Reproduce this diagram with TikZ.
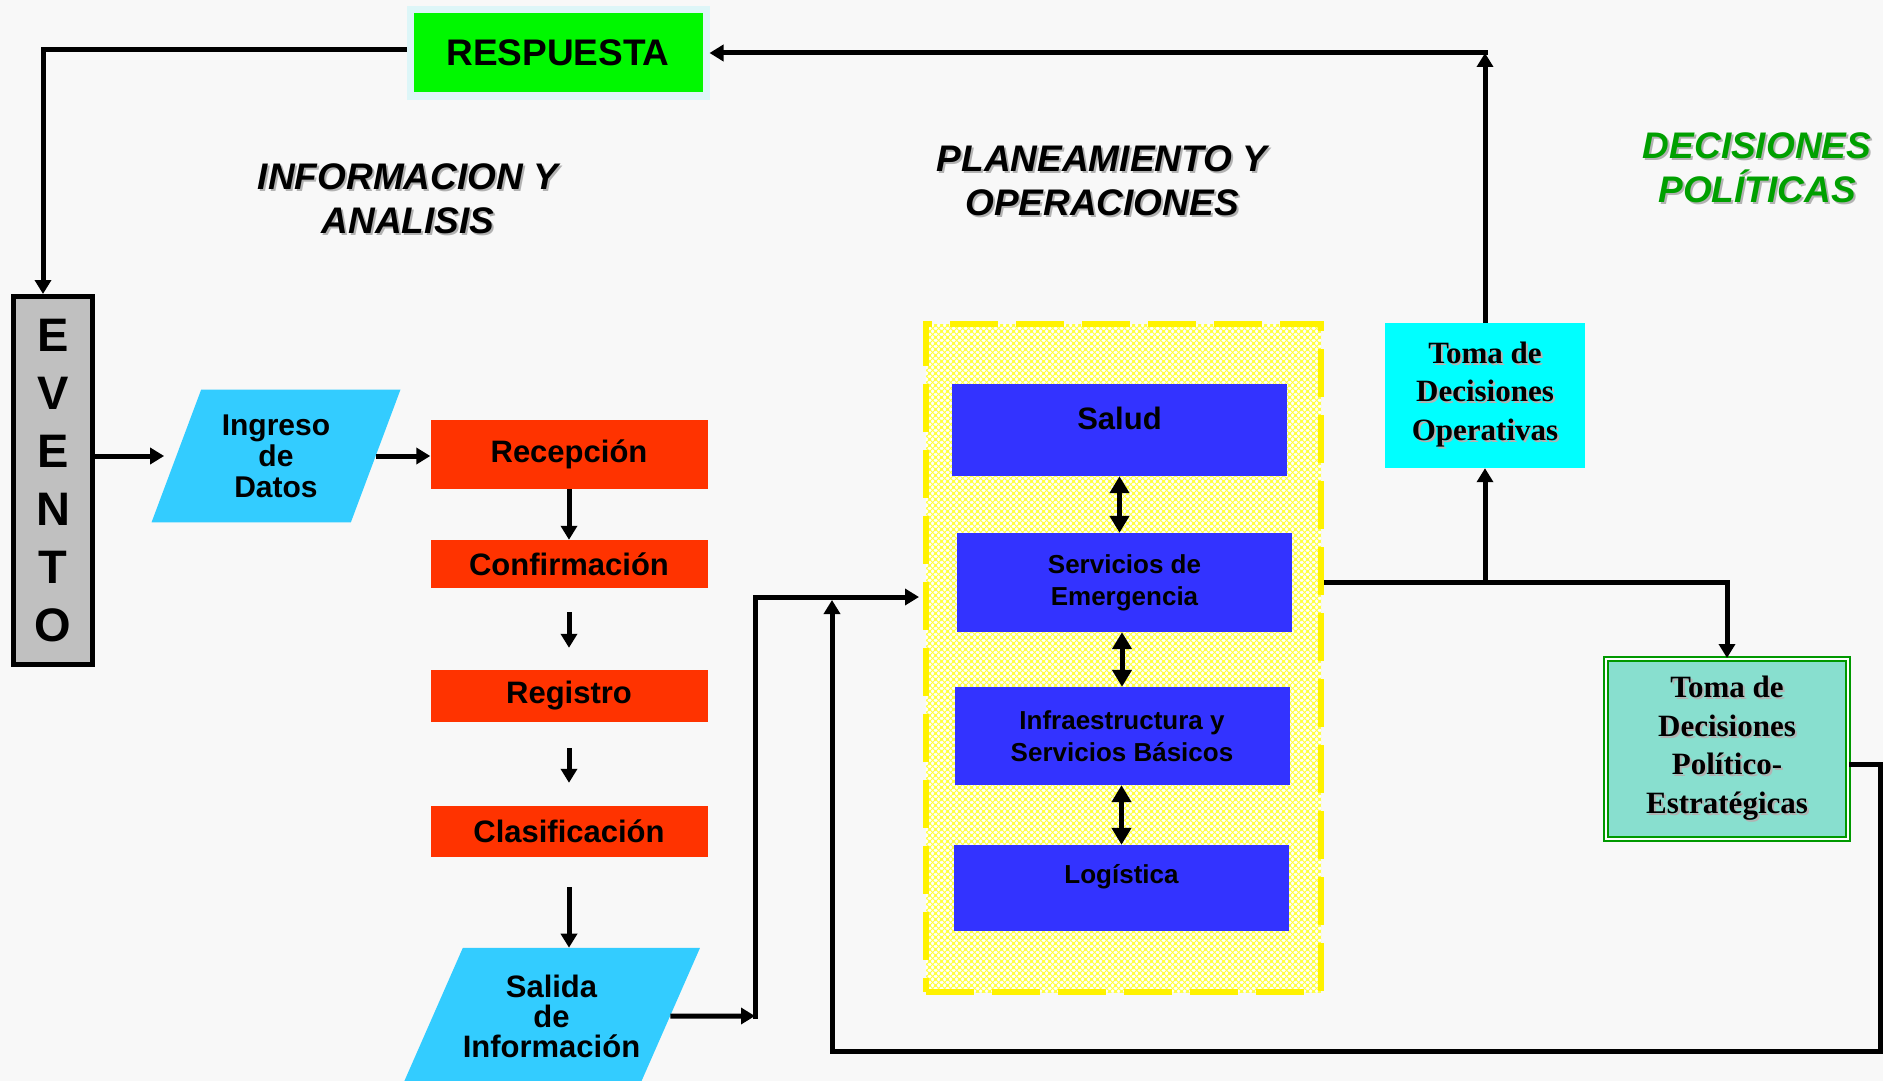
\documentclass[tikz,border=0pt]{standalone}
\usepackage{fontspec}
\setmainfont{Liberation Serif}
\setsansfont{Liberation Sans}
\usetikzlibrary{arrows.meta,shapes.geometric,patterns.meta,calc}
\definecolor{bggray}{HTML}{F8F8F8}
\definecolor{respgreen}{HTML}{00F800}
\definecolor{respedge}{HTML}{DDF6F8}
\definecolor{evgray}{HTML}{C0C0C0}
\definecolor{skyb}{HTML}{33CCFF}
\definecolor{redor}{HTML}{FF3300}
\definecolor{bluebx}{HTML}{3333FF}
\definecolor{cyanbx}{HTML}{00FFFF}
\definecolor{tealfill}{HTML}{88DFCF}
\definecolor{dgreen}{HTML}{009900}
\definecolor{titlegreen}{HTML}{00A000}
\definecolor{hatchyellow}{HTML}{FFFF40}
\tikzdeclarepattern{
  name=ychx,
  type=uncolored,
  bounding box={(0pt,0pt) and (6pt,6pt)},
  tile size={(6pt,6pt)},
  code={
    \draw[line width=1.05pt] (-6pt,-6pt) -- (12pt,12pt) (-6pt,12pt) -- (12pt,-6pt)
      (-6pt,0pt) -- (6pt,12pt) (0pt,-6pt) -- (12pt,6pt)
      (-6pt,6pt) -- (6pt,-6pt) (0pt,12pt) -- (12pt,0pt);
  }
}
\newcommand\shtext[1]{\makebox[0pt][l]{\hspace{2pt}\raisebox{-2pt}{\color{black!30}#1}}#1}
\begin{document}
\begin{tikzpicture}[x=1pt,y=-1pt,
  arr/.style={line width=5pt,-{Triangle[length=14pt,width=16pt]}},
  darr/.style={line width=5pt,{Triangle[length=17pt,width=19pt]}-{Triangle[length=17pt,width=19pt]}},
  redbox/.style={fill=redor,minimum width=277pt,inner sep=0pt,font=\sffamily\bfseries\fontsize{31}{36}\selectfont},
  bluebox/.style={fill=bluebx,minimum width=335pt,inner sep=0pt,font=\sffamily\bfseries\fontsize{26}{32}\selectfont},
  para/.style={trapezium,trapezium stretches body,fill=skyb,align=center,inner sep=0pt,font=\sffamily\bfseries\fontsize{30}{31}\selectfont},
  titletext/.style={align=center,font=\sffamily\bfseries\itshape\fontsize{37}{44}\selectfont},
  toma/.style={align=center,inner sep=0pt,font=\rmfamily\bfseries\fontsize{31}{38.5}\selectfont}
]
\path[fill=bggray,use as bounding box] (0,0) rectangle (1883,1081);
\clip (0,0) rectangle (1883,1081);

% titles
\node[titletext] (tinfo) at (408,200) {\shtext{INFORMACION Y}\\\shtext{ANALISIS}};
\node[titletext] (tplan) at (1102,182) {\shtext{PLANEAMIENTO Y}\\\shtext{OPERACIONES}};
\node[titletext,text=titlegreen] (tdec) at (1757,168.5) {\shtext{DECISIONES}\\\shtext{POLÍTICAS}};

% main nodes
\node[fill=respgreen,draw=respedge,line width=7pt,minimum width=296pt,minimum height=86pt,inner sep=0pt,
      font=\sffamily\bfseries\fontsize{37}{40}\selectfont] (resp) at (558,53) {RESPUESTA};
\node[fill=evgray,draw=black,line width=5pt,minimum width=79pt,minimum height=368pt,inner sep=0pt,align=center,
      font=\sffamily\bfseries\fontsize{47}{58}\selectfont] (evento) at (53,480.5) {E\\V\\E\\N\\T\\O};
\node[para,trapezium left angle=69.5,trapezium right angle=110.5,inner ysep=25pt,minimum width=249pt] (ingreso) at (276,456) {Ingreso\\de\\Datos};
\node[redbox,minimum height=69pt] (recep) at (569,454.5) {Recepción};
\node[redbox,minimum height=48pt] (confirm) at (569,564) {Confirmación};
\node[redbox,minimum height=52pt] (reg) at (569,696) {Registro};
\node[redbox,minimum height=51pt] (clas) at (569,831.5) {Clasificación};
\node[para,trapezium left angle=66.3,trapezium right angle=113.7,inner ysep=26.7pt,minimum width=293pt,
      font=\sffamily\bfseries\fontsize{31}{30}\selectfont] (salida) at (551.5,1016) {Salida\\de\\Información};

\node[draw=yellow,line width=5.5pt,dash pattern=on 48pt off 18pt,preaction={fill=white},
      pattern={ychx},pattern color=hatchyellow,minimum width=395pt,minimum height=668pt] (plan) at (1123.5,658) {};
\node[bluebox,minimum height=92pt,font=\sffamily\bfseries\fontsize{31}{36}\selectfont,text height=22pt,text depth=24pt] (salud) at (1119.5,430) {Salud};
\node[bluebox,minimum height=99pt,align=center] (serv) at (1124.5,582.5) {Servicios de\\Emergencia};
\node[bluebox,minimum height=98pt,align=center] (infra) at (1122,736) {Infraestructura y\\Servicios Básicos};
\node[bluebox,minimum height=86pt,text height=19pt,text depth=28pt] (logis) at (1121.5,888) {Logística};

\node[fill=cyanbx,minimum width=200pt,minimum height=145pt,toma] (operat) at (1485,395.5) {\shtext{Toma de}\\\shtext{Decisiones}\\\shtext{Operativas}};
\node[fill=tealfill,draw=dgreen,double=white,double distance=2.5pt,line width=2pt,minimum width=242pt,minimum height=180pt,toma] (politico) at (1727,749) {\shtext{Toma de}\\\shtext{Decisiones}\\\shtext{Político-}\\\shtext{Estratégicas}};

% coordinates
\coordinate (s1) at (755,1016);
\coordinate (pin) at (919,597);
\coordinate (fbR) at (1880,1051);
\coordinate (fbL) at (832,1051);
\coordinate (fbU) at (832,600);

% connectors
\draw[arr] ([yshift=3pt]resp.west) -| ([xshift=-10pt]evento.north);
\draw[arr,shorten >=12pt] (evento.east |- ingreso.west) -- (ingreso.west);
\draw[arr] (ingreso.east) -- (ingreso.east -| recep.west);
\draw[arr] (recep.south) -- (confirm.north);
\draw[arr,shorten <=24pt,shorten >=22pt] (confirm.south) -- (reg.north);
\draw[arr,shorten <=26pt,shorten >=23pt] (reg.south) -- (clas.north);
\draw[arr,shorten <=30pt] (clas.south) -- (clas.south |- salida.north);
\draw[arr] (salida.east) -- (s1);
\draw[arr] ([yshift=-2.5pt]s1) |- (pin);
\draw[arr] ([yshift=-15pt]politico.east) -| (fbR) -- (fbL) -- (fbU);
\draw[darr] (salud.south) -- (salud.south |- serv.north);
\draw[darr] (infra.north |- serv.south) -- (infra.north);
\draw[darr] (logis.north |- infra.south) -- (logis.north);
\draw[arr] (serv.east -| plan.east) -| (politico.north);
\draw[arr] (operat.south |- serv.east) -- (operat.south);
\draw[arr] (operat.north) -- (operat.north |- resp.east);
\draw[arr] ([xshift=2.5pt]operat.north |- resp.east) -- (resp.east);
\end{tikzpicture}
\end{document}
